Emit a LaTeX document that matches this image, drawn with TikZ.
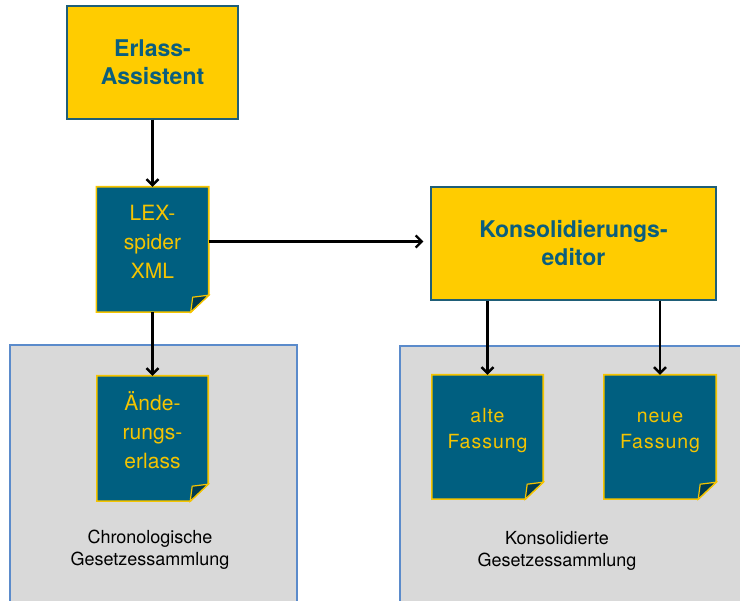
\documentclass[tikz,border=0pt]{standalone}
\usepackage{fontspec}
\setmainfont{TeX Gyre Heros}
\usetikzlibrary{arrows.meta}
\definecolor{boxyellow}{HTML}{FFCC00}
\definecolor{boxline}{HTML}{1F5E78}
\definecolor{boxtext}{HTML}{0B5E7D}
\definecolor{sheetteal}{HTML}{005F80}
\definecolor{sheetline}{HTML}{F5C400}
\definecolor{flapteal}{HTML}{003A4F}
\definecolor{shelfgray}{HTML}{D9D9D9}
\definecolor{shelfline}{HTML}{5B8BCB}
\pgfdeclarelayer{shelves}
\pgfdeclarelayer{sheets}
\pgfsetlayers{shelves,sheets,main}

\tikzset{
	tool/.style={fill=boxyellow,draw=boxline,line width=1.2pt,text=boxtext,align=center,
		font=\fontsize{23}{28}\selectfont\bfseries,inner sep=0pt},
	sheet/.style={minimum width=#1,minimum height=124pt,inner sep=0pt},
	sheettext/.style={text=sheetline,align=center,font=\fontsize{21}{29}\selectfont},
	fassung/.style={sheettext,yshift=6pt,font=\fontsize{19.5}{26}\selectfont\addfontfeature{LetterSpace=5}},
	shelf/.style={fill=shelfgray,draw=shelfline,line width=1.2pt,inner sep=0pt},
	shelftext/.style={align=center,font=\fontsize{18}{22}\selectfont},
	flow/.style={-{Straight Barb[length=6pt,width=12pt]},line width=2.4pt}
}

\newcommand{\sheetoutline}[1]{%
	\begin{pgfonlayer}{sheets}
	\filldraw[fill=sheetteal,draw=sheetline,line width=1.6pt] (#1.north west) -- (#1.north east)
		-- ([yshift=17pt]#1.south east) -- ([xshift=-18pt]#1.south east) -- (#1.south west) -- cycle;
	\filldraw[fill=flapteal,draw=sheetline,line width=1.2pt] ([yshift=17pt]#1.south east)
		-- ([xshift=-16pt,yshift=15pt]#1.south east) -- ([xshift=-18pt]#1.south east) -- cycle;
	\end{pgfonlayer}}

\begin{document}
\begin{tikzpicture}[x=1pt,y=-1pt]
	\useasboundingbox (0,0) rectangle (740,601);

	\begin{pgfonlayer}{shelves}
	\node[shelf,minimum width=287pt,minimum height=264pt] (chron) at (153.5,477) {};
	\node[shelf,minimum width=360pt,minimum height=264pt] (konsol) at (580,478) {};
	\end{pgfonlayer}
	\node[shelftext] (chronlbl) at (150,550) {Chronologische\\Gesetzessammlung};
	\node[shelftext] (konsollbl) at (557,551) {Konsolidierte\\Gesetzessammlung};

	\node[tool,minimum width=171pt,minimum height=113pt] (assist) at (152.5,62.5) {Erlass-\\Assistent};
	\node[tool,minimum width=285pt,minimum height=113pt] (kons) at (573.5,243.5) {Konsolidierungs-\\editor};

	\node[sheet=112pt,minimum height=125pt,label={[sheettext,yshift=8pt]center:{LEX-\\spider\\XML}}] (lex) at (152.5,249.5) {};
	\node[sheet=111pt,minimum height=125pt,label={[sheettext,yshift=8pt]center:{Ände-\\rungs-\\erlass}}] (aend) at (152.5,438.5) {};
	\node[sheet=111pt,label={[fassung]center:{alte\\Fassung}}] (alte) at (487.5,437) {};
	\node[sheet=112pt,label={[fassung]center:{\vphantom{l}neue\\Fassung}}] (neue) at (660,437) {};
	\sheetoutline{lex}
	\sheetoutline{aend}
	\sheetoutline{alte}
	\sheetoutline{neue}

	\draw[flow] (assist) -- (lex);
	\draw[flow] (lex) -- (aend);
	\draw[flow] ([yshift=8pt]lex.east) coordinate (lexout) -- ([xshift=-7pt]kons.west |- lexout);
	\draw[flow] (kons.south -| alte.north) -- (alte.north);
	\draw[flow] (kons.south -| neue.north) -- (neue.north);
\end{tikzpicture}
\end{document}
